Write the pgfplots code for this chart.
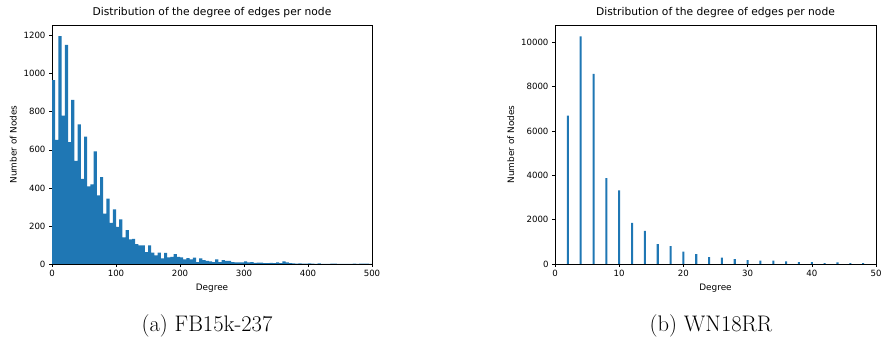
\documentclass[border=0pt]{standalone}
\usepackage{pgfplots}
\pgfplotsset{compat=1.18}
\usepackage{fontspec}
\newfontfamily\dejavu{DejaVu Sans}
\definecolor{mplblue}{HTML}{1F77B4}
\pgfplotsset{mpl/.style={
  scale only axis, anchor=south west,
  axis line style={line width=0.6pt, black},
  tick align=outside, xtick pos=left, ytick pos=left,
  major tick length=3pt, tick style={black, line width=0.6pt},
  tick label style={font=\dejavu\fontsize{8.6}{10}\selectfont},
  /pgf/number format/assume math mode=true,
  /pgf/number format/1000 sep={},
  scaled y ticks=false, scaled x ticks=false,
  title style={font=\dejavu\fontsize{10.7}{12}\selectfont, yshift=-2pt},
  label style={font=\dejavu\fontsize{8.9}{10}\selectfont},
  title={Distribution of the degree of edges per node},
  xlabel={Degree}, ylabel={Number of Nodes},
}}
\begin{document}
\begin{tikzpicture}[x=1pt,y=1pt]
\path[use as bounding box] (0,0) rectangle (883,337);
\begin{axis}[mpl, at={(52pt,73pt)}, width=320pt, height=239pt,
  xmin=0, xmax=500, ymin=0, ymax=1256,
  xtick={0,100,...,500}, ytick={0,200,...,1200}]
\addplot[const plot, fill=mplblue, draw=none] coordinates {
(0,966) (5,652) (10,1198) (15,780) (20,1152) (25,641) (30,863) (35,542)
(40,734) (45,447) (50,670) (55,408) (60,418) (65,592) (70,360) (75,457)
(80,265) (85,344) (90,216) (95,287) (100,195) (105,234) (110,140) (115,178)
(120,129) (125,132) (130,105) (135,98) (140,98) (145,62) (150,98) (155,60)
(160,45) (165,60) (170,30) (175,58) (180,35) (185,38) (190,52) (195,38)
(200,35) (205,24) (210,31) (215,24) (220,33) (225,10) (230,30) (235,20)
(240,16) (245,14) (250,10) (255,24) (260,10) (265,21) (270,16) (275,17)
(280,10) (285,8) (290,9) (295,8) (300,14) (305,8) (310,10) (315,6)
(320,7) (325,7) (330,5) (335,4) (340,6) (345,4) (350,8) (355,5)
(360,14) (365,8) (370,4) (375,3) (380,2) (385,3) (390,2) (395,2)
(400,3) (405,2) (410,1) (415,3) (420,1) (425,1) (430,1) (435,2)
(440,2) (445,1) (450,0) (455,1) (460,0) (465,1) (470,2) (475,1)
(480,2) (485,2) (490,2) (495,1) (500,1)
} \closedcycle;
\end{axis}
\begin{axis}[mpl, at={(555pt,73pt)}, width=321pt, height=239pt,
  xmin=0, xmax=50, ymin=0, ymax=10784,
  xtick={0,10,...,50}, ytick={0,2000,...,10000}]
\addplot[ybar, bar width=0.32, bar shift=0pt, fill=mplblue, draw=none] coordinates {
(2,6700) (4,10270) (6,8580) (8,3870) (10,3320) (12,1860) (14,1500)
(16,900) (18,810) (20,555) (22,450) (24,315) (26,285) (28,225)
(30,180) (32,150) (34,150) (36,120) (38,90) (40,90) (42,45)
(44,75) (46,45) (48,45)
};
\end{axis}
\node[anchor=base, font=\fontsize{22.5}{27}\selectfont] at (207,5) {(a) FB15k-237};
\node[anchor=base, font=\fontsize{22.5}{27}\selectfont] at (711,5) {(b) WN18RR};
\end{tikzpicture}
\end{document}
